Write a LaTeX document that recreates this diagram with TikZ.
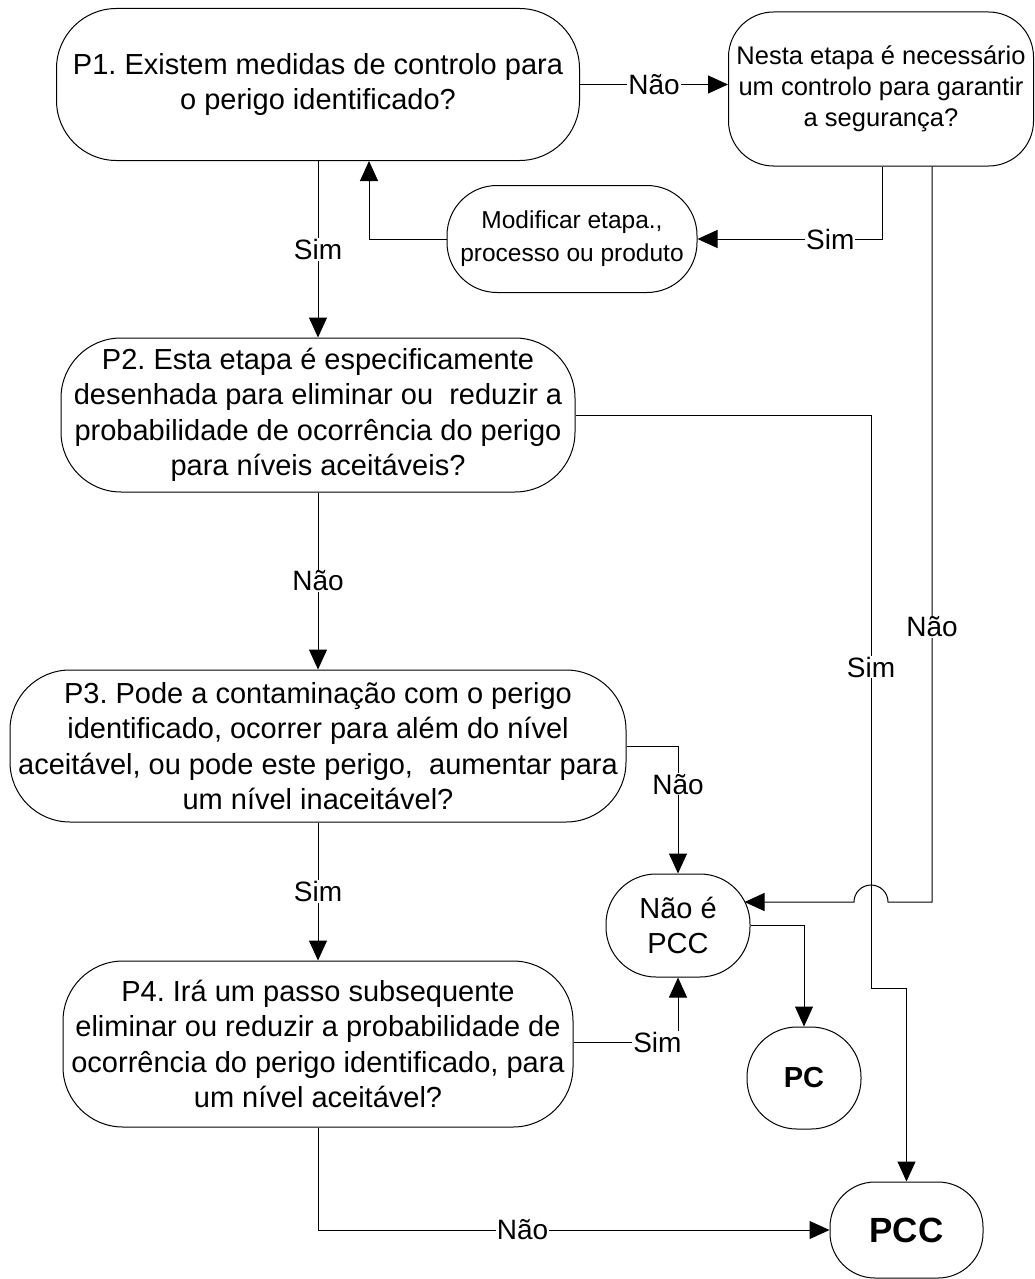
\documentclass[tikz,border=0pt]{standalone}
\usepackage{fontspec}
\setmainfont{Liberation Sans}
\usetikzlibrary{arrows.meta}
\frenchspacing

\newcommand\pquest{\fontsize{29}{35.5}\selectfont}
\newcommand\pnesta{\fontsize{25.5}{31}\selectfont}
\newcommand\pmodif{\fontsize{24.5}{33}\selectfont}
\newcommand\plabel{\fontsize{28}{34}\selectfont}

\begin{document}
\begin{tikzpicture}[x=1pt, y=-1pt, line width=1pt,
    >={Triangle[length=20pt, width=18pt]},
    box/.style={draw, rounded corners=#1, align=center, inner sep=0pt},
    box/.default=60,
    lbl/.style={fill=white, inner sep=1pt, font=\plabel}]
    \useasboundingbox (0,0) rectangle (1034,1279);

    \node[box, minimum width=523, minimum height=152, font=\pquest] (p1) at (318, 84.5)
        {P1. Existem medidas de controlo para\\o perigo identificado?};
    \node[box=45, minimum width=305, minimum height=154, font=\pnesta] (nesta) at (881, 89)
        {Nesta etapa é necessário\\um controlo para garantir\\a segurança?};
    \node[box=50, minimum width=250, minimum height=107, font=\pmodif] (modif) at (572, 239)
        {Modificar etapa.,\\processo ou produto};
    \node[box, minimum width=514, minimum height=154, font=\pquest] (p2) at (318, 415)
        {P2. Esta etapa é especificamente\\desenhada para eliminar ou \ reduzir a\\probabilidade de ocorrência do perigo\\para níveis aceitáveis?};
    \node[box, minimum width=616, minimum height=152, font=\pquest] (p3) at (318, 746)
        {P3. Pode a contaminação com o perigo\\identificado, ocorrer para além do nível\\aceitável, ou pode este perigo, \ aumentar para\\um nível inaceitável?};
    \node[box=50, minimum width=144, minimum height=103, font=\pquest] (npcc) at (678, 925.5)
        {Não é\\PCC};
    \node[box, minimum width=510, minimum height=166, font=\pquest] (p4) at (318, 1044)
        {P4. Irá um passo subsequente\\eliminar ou reduzir a probabilidade de\\ocorrência do perigo identificado, para\\um nível aceitável?};
    \node[box=50, minimum width=114, minimum height=102, font=\pquest\bfseries] (pc) at (804, 1078)
        {PC};
    \node[box=45, minimum width=153, minimum height=96, font=\fontsize{35}{40}\selectfont\bfseries] (pcc) at (906.5, 1230)
        {PCC};

    \coordinate (hop) at (871, 902);
    \coordinate (bend) at (871, 988);

    \draw[->] (p1.east) -- node[lbl] {Não} (p1.east -| nesta.west);
    \draw[->] (p1.south) -- node[lbl] {Sim} (p2.north);
    \draw[->] ([xshift=1pt]nesta.south) |- node[lbl, pos=0.64] {Sim} (modif.east);
    \draw[->] (modif.west) -| ([xshift=51pt]p1.south);
    \draw[->] ([xshift=51pt]nesta.south) |- node[lbl, pos=0.313] {Não} ([xshift=17pt]hop)
        arc[start angle=0, end angle=180, radius=17pt] -- ([xshift=-6pt, yshift=23.5pt]npcc.east);
    \draw[->] (p2.east) -| node[lbl, pos=0.72] {Sim} (bend) -| (pcc.north);
    \draw[->] (p2.south) -- node[lbl] {Não} (p3.north);
    \draw[->] (p3.east) -| node[lbl, pos=0.65] {Não} (npcc.north);
    \draw[->] (p3.south) -- node[lbl] {Sim} (p4.north);
    \draw[->] ([yshift=2pt]p4.east) -| node[lbl, pos=0.5, anchor=east, xshift=5pt] {Sim} (npcc.south);
    \draw[->] (npcc.east) -| (pc.north);
    \draw[->] (p4.south) |- node[lbl, pos=0.7] {Não} (pcc.west);
\end{tikzpicture}
\end{document}
